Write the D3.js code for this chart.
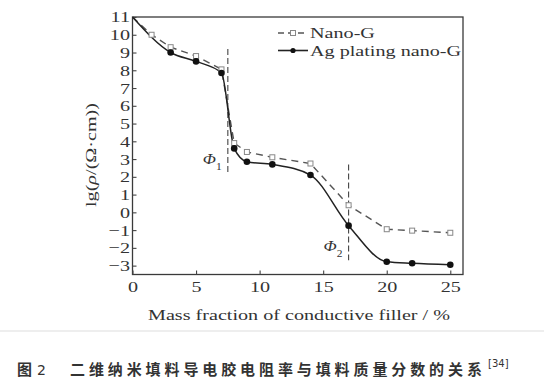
<!DOCTYPE html>
<html lang="zh">
<head>
<meta charset="UTF-8">
<title>Resistivity vs filler fraction</title>
<style>
  body { margin: 0; background: #fff; }
  svg text { fill: #333; font-family: "Liberation Serif", "DejaVu Serif", serif; }
</style>
</head>
<body>
<script src="https://d3js.org/d3.v7.min.js"></script>
<script>
  // mass fraction (%) and lg(rho)
  const nanoX = [0, 1.5, 3, 5, 7, 8, 9, 11, 14, 17, 20, 22, 25];
  const nanoY = [11, 10.0, 9.3, 8.8, 8.05, 3.9, 3.4, 3.1, 2.75, 0.4, -0.95, -1.03, -1.15];
  const agX = [0, 3, 5, 7, 8, 9, 11, 14, 17, 20, 22, 25];
  const agY = [11, 9.0, 8.5, 7.85, 3.6, 2.85, 2.7, 2.1, -0.75, -2.78, -2.87, -2.95];
  const xTicks = [0, 5, 10, 15, 20, 25];
  const yTicks = d3.range(-3, 12);
  // percolation thresholds
  const phiX = [7.5, 17];
  const phiTop = [9.2, 2.7];
  const phiBottom = [2.2, -2.7];
  const phiNames = ["1", "2"];
  const seriesNames = ["Nano-G", "Ag plating nano-G"];

  const W = 544, H = 381;
  const sx = 1.3; // the scanned type is wide
  const fs = 15.5;

  const svg = d3.select("body").append("svg")
    .attr("width", W).attr("height", H);

  const x = d3.scaleLinear().domain([0, 26]).range([132.5, 463]);
  const y = d3.scaleLinear().domain([-3.5, 11]).range([274.5, 17]);

  // frame
  svg.append("rect")
    .attr("x", x(0)).attr("y", y(11))
    .attr("width", x(26) - x(0)).attr("height", y(-3.5) - y(11))
    .attr("fill", "none").attr("stroke", "#3a3a3a").attr("stroke-width", 1.3);

  // axes
  const gx = svg.append("g")
    .attr("transform", "translate(0," + y(-3.5) + ")")
    .call(d3.axisBottom(x).tickValues(xTicks).tickSize(-4).tickPadding(7));
  const gy = svg.append("g")
    .attr("transform", "translate(" + x(0) + ",0)")
    .call(d3.axisLeft(y).tickValues(yTicks).tickSize(-4).tickPadding(2.5));

  [gx, gy].forEach(function(g) {
    g.select(".domain").remove();
    g.selectAll(".tick line").attr("stroke", "#444").attr("stroke-width", 1.1);
    g.selectAll(".tick text")
      .attr("font-size", fs)
      .attr("font-family", "Liberation Serif")
      .attr("fill", "#333");
  });
  gy.selectAll(".tick text")
    .attr("x", function() { return +d3.select(this).attr("x") / sx; })
    .attr("transform", "scale(" + sx + ",1)");
  gx.selectAll(".tick text").attr("transform", "scale(" + sx + ",1)");

  // axis titles
  svg.append("text")
    .attr("transform", "translate(299,320) scale(" + sx + ",1)")
    .attr("text-anchor", "middle")
    .attr("font-size", fs)
    .text("Mass fraction of conductive filler / %");

  const yl = svg.append("text")
    .attr("transform", "translate(91,155) rotate(-90) scale(" + sx + ",1)")
    .attr("text-anchor", "middle")
    .attr("dy", "0.35em")
    .attr("font-size", fs);
  yl.append("tspan").text("lg(");
  yl.append("tspan").attr("font-style", "italic").text("ρ");
  yl.append("tspan").text("/(Ω·cm))");

  // threshold lines
  phiX.forEach(function(px, i) {
    svg.append("line")
      .attr("x1", x(px)).attr("x2", x(px))
      .attr("y1", y(phiTop[i])).attr("y2", y(phiBottom[i]))
      .attr("stroke", "#444").attr("stroke-width", 1.1)
      .attr("stroke-dasharray", "6,3");
    const t = svg.append("text")
      .attr("transform", "translate(" + (x(px) - 25) + "," + (y(phiBottom[i]) - 9) + ") scale(1.15,1)")
      .attr("font-size", 15);
    t.append("tspan").attr("font-style", "italic").text("Φ");
    t.append("tspan").attr("font-size", 10).attr("dy", 6).text(phiNames[i]);
  });

  const nano = nanoX.map(function(v, i) { return [v, nanoY[i]]; });
  const ag = agX.map(function(v, i) { return [v, agY[i]]; });

  // Nano-G: dashed polyline, open squares
  svg.append("path")
    .datum(nano)
    .attr("d", d3.line().x(d => x(d[0])).y(d => y(d[1])))
    .attr("fill", "none").attr("stroke", "#555").attr("stroke-width", 1.4)
    .attr("stroke-dasharray", "7,5");

  // Ag plating: smooth solid curve, filled dots
  svg.append("path")
    .datum(ag)
    .attr("d", d3.line().x(d => x(d[0])).y(d => y(d[1])).curve(d3.curveMonotoneX))
    .attr("fill", "none").attr("stroke", "#222").attr("stroke-width", 1.5);

  svg.selectAll(".sq")
    .data(nano.slice(1))
    .enter().append("rect")
    .attr("class", "sq")
    .attr("x", d => x(d[0]) - 2.5).attr("y", d => y(d[1]) - 2.5)
    .attr("width", 5).attr("height", 5)
    .attr("fill", "#fff").attr("stroke", "#888").attr("stroke-width", 1);

  svg.selectAll(".dot")
    .data(ag.slice(1))
    .enter().append("circle")
    .attr("class", "dot")
    .attr("cx", d => x(d[0])).attr("cy", d => y(d[1]))
    .attr("r", 3.3)
    .attr("fill", "#111");

  // legend
  const lg = svg.append("g");
  seriesNames.forEach(function(name, i) {
    const ly = 33 + i * 17.5;
    lg.append("line")
      .attr("x1", 278).attr("x2", 308).attr("y1", ly).attr("y2", ly)
      .attr("stroke", i === 0 ? "#555" : "#222")
      .attr("stroke-width", i === 0 ? 1.3 : 1.6)
      .attr("stroke-dasharray", i === 0 ? "6,4" : null);
    if (i === 0) {
      lg.append("rect").attr("x", 290.5).attr("y", ly - 2.5)
        .attr("width", 5).attr("height", 5)
        .attr("fill", "#fff").attr("stroke", "#888");
    } else {
      lg.append("circle").attr("cx", 293).attr("cy", ly).attr("r", 2.6).attr("fill", "#111");
    }
    lg.append("text")
      .attr("transform", "translate(310," + ly + ") scale(" + sx + ",1)")
      .attr("dy", "0.35em")
      .attr("font-size", fs)
      .text(name);
  });

  // page edge below the figure
  svg.append("line")
    .attr("x1", 0).attr("x2", W).attr("y1", 331).attr("y2", 331)
    .attr("stroke", "#eee").attr("stroke-width", 2);

  // caption
  const cap = svg.append("g")
    .style("font-family", "'Noto Sans CJK SC', sans-serif");
  cap.append("text")
    .attr("x", 17).attr("y", 375)
    .attr("font-size", 15).attr("font-weight", "bold")
    .style("font-family", "'Noto Sans CJK SC', sans-serif")
    .attr("fill", "#111")
    .text("图");
  cap.append("text")
    .attr("x", 37).attr("y", 375)
    .attr("font-size", 14)
    .style("font-family", "'DejaVu Sans', sans-serif")
    .attr("fill", "#222")
    .text("2");
  cap.append("text")
    .attr("x", 70).attr("y", 375)
    .attr("font-size", 15).attr("font-weight", "bold")
    .attr("letter-spacing", 3.9)
    .style("font-family", "'Noto Sans CJK SC', sans-serif")
    .attr("fill", "#111")
    .text("二维纳米填料导电胶电阻率与填料质量分数的关系");
  cap.append("text")
    .attr("x", 488).attr("y", 367)
    .attr("font-size", 10)
    .style("font-family", "'DejaVu Sans', sans-serif")
    .attr("fill", "#444")
    .text("[34]");
</script>
</body>
</html>
